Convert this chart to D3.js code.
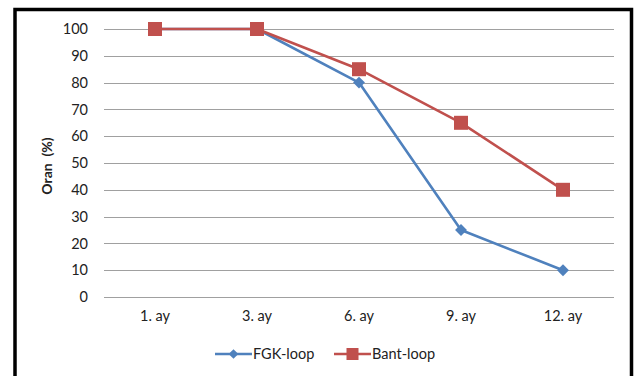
<!DOCTYPE html>
<html>
<head>
<meta charset="utf-8">
<script src="https://cdn.jsdelivr.net/npm/d3@7/dist/d3.min.js"></script>
<style>
  html, body { margin: 0; padding: 0; background: #fff; }
  svg { display: block; }
  text { font-family: Lato, "Open Sans", sans-serif; fill: #222; }
</style>
</head>
<body>
<svg id="chart" width="640" height="376"></svg>
<script>
// Months of follow-up and the survival rate (%) for each loop type
const months = ["1. ay", "3. ay", "6. ay", "9. ay", "12. ay"];
const fgkLoop = [100, 100, 80, 25, 10];
const bantLoop = [100, 100, 85, 65, 40];
const yTicks = [0, 10, 20, 30, 40, 50, 60, 70, 80, 90, 100];
const seriesNames = ["FGK-loop", "Bant-loop"];

const colors = { fgk: "#4F81BD", bant: "#C0504D" };
const fontSize = 14.5;

const svg = d3.select("#chart");

// outer frame
svg.append("rect")
  .attr("x", 15).attr("y", 9.5)
  .attr("width", 616.5).attr("height", 380)
  .attr("fill", "#fff")
  .attr("stroke", "#000").attr("stroke-width", 3.5);

const plot = { left: 104, right: 614, top: 29, bottom: 297 };

const x = d3.scaleBand().domain(months).range([plot.left, plot.right]);
const y = d3.scaleLinear().domain([0, 100]).range([plot.bottom, plot.top]);

// horizontal gridlines
svg.append("g")
  .selectAll("line")
  .data(yTicks)
  .join("line")
  .attr("x1", plot.left).attr("x2", plot.right)
  .attr("y1", d => Math.round(y(d)) + 0.5).attr("y2", d => Math.round(y(d)) + 0.5)
  .attr("stroke", "#a0a0a0").attr("stroke-width", 1);

// y axis labels
const yAxis = d3.axisLeft(y).tickValues(yTicks).tickSize(0).tickPadding(16);
svg.append("g")
  .attr("transform", `translate(${plot.left},0)`)
  .call(yAxis)
  .call(g => g.select(".domain").remove())
  .call(g => g.selectAll("text")
    .attr("font-size", fontSize)
    .attr("font-family", "Lato, 'Open Sans', sans-serif")
    .attr("fill", "#222"));

// x axis labels
const xAxis = d3.axisBottom(x).tickSize(0).tickPadding(14);
svg.append("g")
  .attr("transform", `translate(0,${plot.bottom})`)
  .call(xAxis)
  .call(g => g.select(".domain").remove())
  .call(g => g.selectAll("text")
    .attr("font-size", fontSize)
    .attr("font-family", "Lato, 'Open Sans', sans-serif")
    .attr("fill", "#222"));

// y axis title
svg.append("text")
  .attr("transform", "translate(52,166) rotate(-90)")
  .attr("text-anchor", "middle")
  .attr("font-size", 14)
  .attr("font-weight", "bold")
  .attr("xml:space", "preserve")
  .text("Oran  (%)");

const cx = d => x(d) + x.bandwidth() / 2;
const line = d3.line().x(d => cx(d.m)).y(d => y(d.v));

const fgkData = months.map((m, i) => ({ m, v: fgkLoop[i] }));
const bantData = months.map((m, i) => ({ m, v: bantLoop[i] }));

// FGK-loop series (diamonds)
svg.append("path")
  .datum(fgkData)
  .attr("d", line)
  .attr("fill", "none")
  .attr("stroke", colors.fgk)
  .attr("stroke-width", 2.6)
  .attr("stroke-linejoin", "round");

const diamond = d3.symbol().type(d3.symbolDiamond2).size(90);
svg.append("g")
  .selectAll("path")
  .data(fgkData)
  .join("path")
  .attr("d", diamond)
  .attr("transform", d => `translate(${cx(d.m)},${y(d.v)})`)
  .attr("fill", colors.fgk);

// Bant-loop series (squares)
svg.append("path")
  .datum(bantData)
  .attr("d", line)
  .attr("fill", "none")
  .attr("stroke", colors.bant)
  .attr("stroke-width", 2.6)
  .attr("stroke-linejoin", "round");

svg.append("g")
  .selectAll("rect")
  .data(bantData)
  .join("rect")
  .attr("x", d => cx(d.m) - 7).attr("y", d => y(d.v) - 7)
  .attr("width", 14).attr("height", 14)
  .attr("fill", colors.bant);

// legend
const legend = svg.append("g").attr("transform", "translate(0,354)");
const legendItems = [
  { name: seriesNames[0], color: colors.fgk, x: 215, shape: "diamond" },
  { name: seriesNames[1], color: colors.bant, x: 334, shape: "square" }
];
legendItems.forEach(it => {
  legend.append("line")
    .attr("x1", it.x).attr("x2", it.x + 37)
    .attr("y1", 0).attr("y2", 0)
    .attr("stroke", it.color).attr("stroke-width", 2.6);
  if (it.shape === "diamond") {
    legend.append("path")
      .attr("d", d3.symbol().type(d3.symbolDiamond2).size(60))
      .attr("transform", `translate(${it.x + 18.5},0)`)
      .attr("fill", it.color);
  } else {
    legend.append("rect")
      .attr("x", it.x + 18.5 - 6).attr("y", -6)
      .attr("width", 12).attr("height", 12)
      .attr("fill", it.color);
  }
  legend.append("text")
    .attr("x", it.x + 38).attr("y", 0)
    .attr("dy", "0.35em")
    .attr("font-size", fontSize)
    .text(it.name);
});
</script>
</body>
</html>
